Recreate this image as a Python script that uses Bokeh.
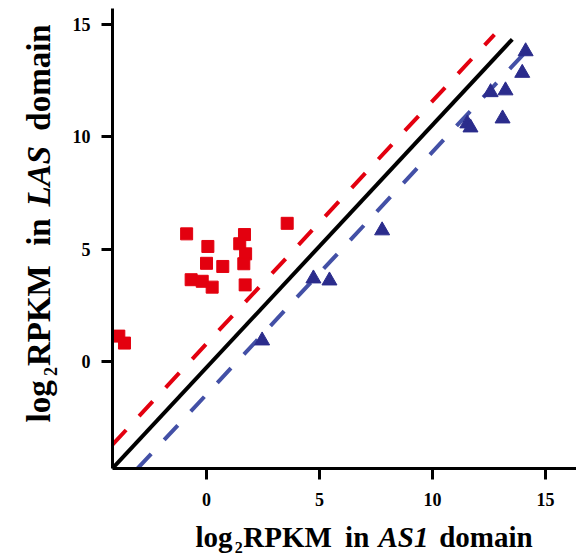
import math
from bokeh.plotting import figure
from bokeh.models import Range1d, Label, FixedTicker, LinearAxis
from bokeh.embed import file_html
from bokeh.resources import INLINE

# ---------------- data ----------------
# red squares (higher in LAS domain)
red_x = [-3.88, -3.63, -0.88, 0.06, 0.00, 0.72, -0.68, -0.19, 0.25, 1.68, 1.47, 1.73, 1.65, 1.71, 3.57]
red_y = [1.13, 0.82, 5.68, 5.12, 4.37, 4.23, 3.64, 3.57, 3.31, 5.65, 5.24, 4.79, 4.35, 3.41, 6.15]
# blue triangles (higher in AS1 domain)
blue_x = [2.46, 4.73, 5.44, 7.77, 11.54, 11.68, 12.57, 13.23, 13.10, 13.97, 14.12]
blue_y = [0.93, 3.69, 3.60, 5.83, 10.59, 10.41, 11.98, 12.06, 10.81, 12.84, 13.80]
# reference lines (end points)
black_line_x = [-4.16, 13.53]
black_line_y = [-4.76, 14.34]
red_line_x = [-4.16, 12.74]
red_line_y = [-3.70, 14.55]
blue_line_x = [-3.05, 14.34]
blue_line_y = [-4.76, 14.02]
ticks = [0, 5, 10, 15]
x_label_parts = ["log", "2", "RPKM", " in ", "AS1", " domain"]
y_label_parts = ["log", "2", "RPKM", " in ", "LAS", " domain"]

# axis extents (data units)
AX_X0, AX_X1 = -4.16, 16.37
AX_Y0, AX_Y1 = -4.76, 15.71

W, H = 576, 557
FL, FT = 112, 8
PXU_X = 22.6
PXU_Y = 22.47
X0 = AX_X0 - FL / PXU_X
X1 = X0 + W / PXU_X
Y1 = AX_Y1 + FT / PXU_Y
Y0 = Y1 - H / PXU_Y

RED = "#e3000f"
NAVY = "#2b2c8c"
BLUE_DASH = "#4350a6"
SERIF = "Liberation Serif"

p = figure(frame_width=W, frame_height=H, output_backend="svg", toolbar_location=None,
           x_range=Range1d(X0, X1), y_range=Range1d(Y0, Y1),
           x_axis_location=None, y_axis_location=None,
           min_border_left=0, min_border_right=0, min_border_top=0, min_border_bottom=0)
p.grid.visible = False
p.outline_line_color = None
p.background_fill_color = "white"
p.border_fill_color = "white"

xaxis = LinearAxis(fixed_location=AX_Y0, bounds=(AX_X0, AX_X1))
yaxis = LinearAxis(fixed_location=AX_X0, bounds=(AX_Y0, AX_Y1))
p.add_layout(xaxis, "below")
p.add_layout(yaxis, "left")

for ax, standoff in ((xaxis, 14), (yaxis, 11)):
    ax.ticker = FixedTicker(ticks=ticks)
    ax.minor_tick_line_color = None
    ax.major_tick_in = 0
    ax.major_tick_out = 11
    ax.axis_line_width = 3
    ax.major_tick_line_width = 3
    ax.axis_line_color = "black"
    ax.major_tick_line_color = "black"
    ax.major_label_text_font = SERIF
    ax.major_label_text_font_style = "bold"
    ax.major_label_text_font_size = "18px"
    ax.major_label_text_color = "black"
    ax.major_label_standoff = standoff

p.line(black_line_x, black_line_y, line_width=4, line_color="black")
p.line(red_line_x, red_line_y, line_width=4, line_color=RED, line_dash="20 19")
p.line(blue_line_x, blue_line_y, line_width=4, line_color=BLUE_DASH, line_dash="20 19")

p.scatter(red_x, red_y, marker="square", size=12, fill_color=RED, line_color=RED)
p.scatter(blue_x, blue_y, marker="triangle", size=15, fill_color=NAVY, line_color=NAVY)


def px2x(px):
    return X0 + px / PXU_X


def py2y(py):
    return Y1 - py / PXU_Y


# Times/Liberation Serif Bold (and Bold Italic) advance widths, per 1000 em
BOLD = {"l": 278, "o": 500, "g": 500, "2": 500, "R": 722, "P": 611, "K": 778, "M": 944,
        " ": 250, "i": 278, "n": 556, "d": 556, "m": 833, "a": 500}
BOLD_IT = {"A": 667, "S": 556, "1": 500, "L": 611, " ": 250}
SUB = 0.55


def layout_parts(parts, size, length):
    """Return (text, offset_px, style, font_px, shift_px) for a label made of parts."""
    items = []
    for i, t in enumerate(parts):
        italic = i == 4
        sub = i == 1
        fs = size * SUB if sub else size
        table = BOLD_IT if italic else BOLD
        w = sum(table.get(c, BOLD.get(c, 500)) for c in t) / 1000 * fs
        items.append([t, w, "bold italic" if italic else "bold", fs, 0.37 * size if sub else 0])
    total = sum(it[1] for it in items)
    k = length / total
    out, pos = [], 0.0
    for t, w, st, fs, sh in items:
        lead = len(t) - len(t.lstrip(" "))
        lead_w = lead * 0.25 * fs
        out.append((t.strip(" "), pos + lead_w * k, st, fs, sh))
        pos += w * k
    return out


# x axis label: starts at canvas x=195, spans 343 px
FXL = 29
for t, off, st, fs, sh in layout_parts(x_label_parts, FXL, 343):
    p.add_layout(Label(x=px2x(195 + off), y=py2y(536 + sh), text=t, text_font=SERIF,
                       text_font_style=st, text_font_size=f"{fs:.1f}px", text_color="black",
                       text_align="left", text_baseline="alphabetic"))

# y axis label (rotated, reading upward): starts at canvas y=422, spans 409 px
FYL = 33
for t, off, st, fs, sh in layout_parts(y_label_parts, FYL, 409):
    p.add_layout(Label(x=px2x(38 + sh), y=py2y(422 - off), text=t, text_font=SERIF, angle=math.pi / 2,
                       text_font_style=st, text_font_size=f"{fs:.1f}px", text_color="black",
                       text_align="left", text_baseline="alphabetic"))

open("out.html", "w").write(file_html(p, INLINE))
